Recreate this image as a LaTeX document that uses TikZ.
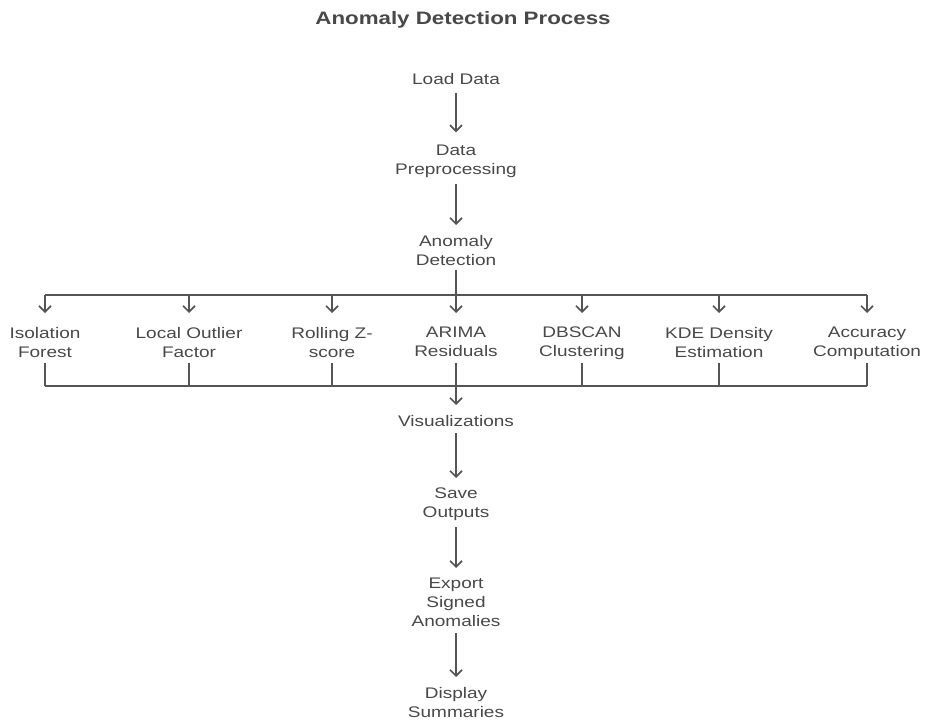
\documentclass[tikz,border=0pt]{standalone}
\usepackage{fontspec}
\setmainfont{Liberation Sans}[FakeStretch=1.24]
\usetikzlibrary{arrows.meta}
\definecolor{txtcol}{HTML}{484848}
\definecolor{lncol}{HTML}{555555}
\begin{document}
\begin{tikzpicture}[x=0.75pt,y=-0.75pt,
  lbl/.style={text=txtcol, font=\fontsize{11.5}{14}\selectfont, align=center, inner sep=0pt, anchor=north},
  ttl/.style={text=txtcol, font=\bfseries\fontsize{13.5}{16}\selectfont, inner sep=0pt, anchor=north},
  wire/.style={draw=lncol, line width=1.4pt},
  arr/.style={wire, -{Straight Barb[length=4.5pt,width=9pt,line width=1.3pt]}, shorten <=4.5pt, shorten >=7.5pt},
  brarr/.style={wire, -{Straight Barb[length=4.5pt,width=9pt,line width=1.3pt]}}]
\useasboundingbox (0,0) rectangle (927,720);
\node[ttl] (title) at (463,11) {Anomaly Detection Process};
\node[lbl] (load) at (456,73) {Load Data};
\node[lbl] (prep) at (456,145) {Data\\Preprocessing};
\node[lbl] (det) at (456,235) {Anomaly\\Detection};
\node[lbl] (iso) at (45,327) {Isolation\\Forest};
\node[lbl] (lof) at (189,327) {Local Outlier\\Factor};
\node[lbl] (rz) at (332,327) {Rolling Z-\\score};
\node[lbl] (ar) at (456,327) {ARIMA\\Residuals};
\node[lbl] (db) at (582,327) {DBSCAN\\Clustering};
\node[lbl] (kde) at (719,327) {KDE Density\\Estimation};
\node[lbl] (acc) at (867,327) {Accuracy\\Computation};
\node[lbl] (vis) at (456,415) {Visualizations};
\node[lbl] (save) at (456,488) {Save\\Outputs};
\node[lbl] (exp) at (456,578) {Export\\Signed\\Anomalies};
\node[lbl] (disp) at (456,687) {Display\\Summaries};
\coordinate (bt) at (456,295);
\coordinate (tip) at (456,313);
\coordinate (rowbot) at (456,363);
\coordinate (bb) at (456,386);
\draw[arr, shorten <=6pt, shorten >=9.5pt] (load) -- (prep);
\draw[arr] (prep) -- (det);
\draw[wire, shorten <=3.75pt] (det.south) -- (bt);
\draw[wire] (iso |- bt) -- (acc |- bt);
\foreach \n in {iso,lof,rz,ar,db,kde,acc}{
  \draw[brarr] (\n |- bt) -- (\n |- tip);
  \draw[wire] (\n |- rowbot) -- (\n |- bb);
}
\draw[wire] (iso |- bb) -- (acc |- bb);
\draw[arr, shorten <=0pt] (bb) -- (vis);
\draw[arr] (vis) -- (save);
\draw[arr] (save) -- (exp);
\draw[arr] (exp) -- (disp);
\end{tikzpicture}
\end{document}
